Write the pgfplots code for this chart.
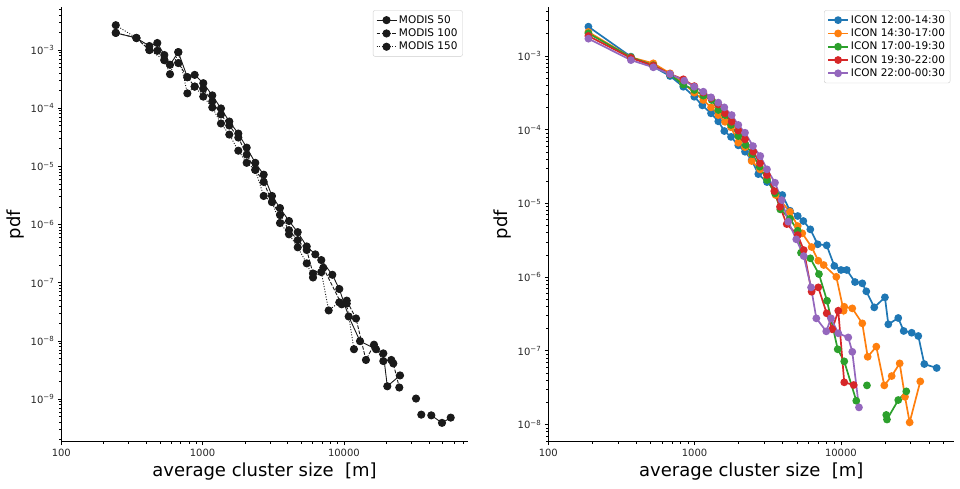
\documentclass[border=0pt]{standalone}
\usepackage{fontspec}
\setmainfont{DejaVu Sans}
\usepackage{pgfplots}
\pgfplotsset{compat=1.18}

\definecolor{mdark}{HTML}{1A1A1A}
\definecolor{tabblue}{HTML}{1F77B4}
\definecolor{taborange}{HTML}{FF7F0E}
\definecolor{tabgreen}{HTML}{2CA02C}
\definecolor{tabred}{HTML}{D62728}
\definecolor{tabpurple}{HTML}{9467BD}

\tikzset{
  modis/.style={mdark, line width=0.9pt, mark=*, mark size=3.6pt,
    mark options={solid, fill=mdark}},
  icon/.style={#1, line width=1.7pt, mark=*, mark size=3pt,
    mark options={solid, fill=#1}},
}

\begin{document}
\begin{tikzpicture}
\useasboundingbox (0,0) rectangle (960pt,488pt);

% MODIS
\begin{axis}[
  scale only axis, at={(61.3pt,46.3pt)}, anchor=south west,
  width=406.4pt, height=434.4pt,
  xmode=log, ymode=log, log basis x=10, log basis y=10,
  xmin=100, xmax=75200, ymin=1.85e-10, ymax=5.42e-3,
  axis lines=left,
  axis line style={-, line width=0.8pt, black},
  tick align=outside,
  major tick length=3.5pt, minor tick length=2pt,
  every tick/.style={black, line width=0.7pt},
  tick label style={font=\fontsize{10}{12}\selectfont, black!85},
  xticklabel={\pgfmathparse{int(round(10^\tick))}\pgfmathresult},
  yticklabel={10\textsuperscript{−\pgfmathparse{int(round(-\tick))}\pgfmathresult}},
  label style={font=\fontsize{18}{21.6}\selectfont},
  xlabel={average cluster size\ \ [m]},
  ylabel={pdf},
  unbounded coords=jump,
  legend cell align=left,
  legend image code/.code={\draw[mark repeat=2, mark phase=2]
    plot coordinates {(0pt,0pt) (10pt,0pt) (20pt,0pt)};},
  legend style={at={(1,1)}, anchor=north east, xshift=-5pt, yshift=-3pt,
    draw=black!20, rounded corners=2pt, inner sep=3pt,
    font=\fontsize{10.5}{15.5}\selectfont},
]
\addplot[modis, solid] coordinates {
  (243,1.97e-3) (340,1.61e-3) (420,1.17e-3) (478,1.32e-3) (536,8.2e-4)
  (588,5.57e-4) (673,9.2e-4) (780,3.41e-4) (879,3.74e-4) (1011,2.69e-4)
  (1171,1.66e-4) (1349,9.9e-5) (1545,5.9e-5) (1790,3.66e-5) (2051,2.10e-5)
  (2360,1.15e-5) (2706,7.2e-6) (3098,3.1e-6) (3529,1.92e-6) (4087,1.15e-6)
  (4710,7.4e-7) (5457,4.2e-7) (6278,3.07e-7) (6918,2.45e-7) (8279,1.37e-7)
  (9275,7.8e-8) (10810,2.63e-8) (13000,9.9e-9) (16870,7.2e-9) (19010,6.1e-9)
  (20280,1.66e-9) (24950,2.55e-9) (28000,nan) (32380,1.02e-9) (33500,nan)
  (35300,5.4e-10) (38000,nan) (41550,5.25e-10) (49450,3.9e-10) (57000,4.8e-10)
};
\addlegendentry{MODIS 50}
\addplot[modis, dash pattern=on 3.7pt off 1.6pt] coordinates {
  (243,1.97e-3) (340,1.61e-3) (420,1.0e-3) (478,9.7e-4) (536,6.7e-4)
  (673,5.96e-4) (780,3.41e-4) (879,2.35e-4) (1011,2.14e-4) (1171,1.31e-4)
  (1349,7.8e-5) (1545,5.04e-5) (1790,3.13e-5) (2051,1.59e-5) (2360,8.7e-6)
  (2706,5.4e-6) (3098,2.44e-6) (3529,1.46e-6) (4087,8.0e-7) (4710,5.4e-7)
  (5457,3.65e-7) (6043,1.44e-7) (7148,1.81e-7) (9643,4.25e-8) (10470,4.92e-8)
  (12180,2.43e-8) (14320,4.7e-9) (16330,8.6e-9) (19010,4.5e-9) (21650,4.7e-9)
  (22370,4.1e-9) (24660,1.58e-9)
};
\addlegendentry{MODIS 100}
\addplot[modis, dash pattern=on 1pt off 1.65pt] coordinates {
  (243,2.67e-3) (340,1.61e-3) (420,1.0e-3) (536,6.7e-4) (588,3.84e-4)
  (673,9.2e-4) (780,1.80e-4) (879,2.35e-4) (1011,1.58e-4) (1171,1.03e-4)
  (1349,5.46e-5) (1545,3.52e-5) (1790,1.86e-5) (2051,1.15e-5) (2360,8.7e-6)
  (2706,3.1e-6) (3098,2.44e-6) (3529,1.06e-6) (4087,6.8e-7) (4710,4.06e-7)
  (5457,2.15e-7) (6043,1.23e-7) (6918,1.52e-7) (7805,3.34e-8) (9275,4.6e-8)
  (10470,4.37e-8) (11780,7.2e-9)
};
\addlegendentry{MODIS 150}
\end{axis}

% ICON
\begin{axis}[
  scale only axis, at={(548.3pt,46.3pt)}, anchor=south west,
  width=406pt, height=434.4pt,
  xmode=log, ymode=log, log basis x=10, log basis y=10,
  xmin=100, xmax=59600, ymin=5.85e-9, ymax=4.58e-3,
  axis lines=left,
  axis line style={-, line width=0.8pt, black},
  tick align=outside,
  major tick length=3.5pt, minor tick length=2pt,
  every tick/.style={black, line width=0.7pt},
  tick label style={font=\fontsize{10}{12}\selectfont, black!85},
  xticklabel={\pgfmathparse{int(round(10^\tick))}\pgfmathresult},
  yticklabel={10\textsuperscript{−\pgfmathparse{int(round(-\tick))}\pgfmathresult}},
  label style={font=\fontsize{18}{21.6}\selectfont},
  xlabel={average cluster size\ \ [m]},
  ylabel={pdf},
  unbounded coords=jump,
  legend cell align=left,
  legend image code/.code={\draw[mark repeat=2, mark phase=2]
    plot coordinates {(0pt,0pt) (10pt,0pt) (20pt,0pt)};},
  legend style={at={(1,1)}, anchor=north east, xshift=-4pt, yshift=-3pt,
    draw=black!20, rounded corners=2pt, inner sep=3pt,
    font=\fontsize{10.5}{15.5}\selectfont},
]
\addplot[icon=tabblue] coordinates {
  (188,2.50e-3) (367,9.8e-4) (522,7.16e-4) (679,5.35e-4) (837,3.83e-4)
  (995,2.80e-4) (1129,2.14e-4) (1295,1.67e-4) (1452,1.30e-4) (1596,9.6e-5)
  (1774,8.0e-5) (1990,6.14e-5) (2211,5.03e-5) (2456,3.88e-5) (2725,2.50e-5)
  (3124,1.95e-5) (3977,1.30e-5) (4487,7.96e-6) (5070,6.75e-6) (5535,5.77e-6)
  (6180,4.45e-6) (6937,2.79e-6) (7995,2.70e-6) (9017,1.42e-6) (10016,1.25e-6)
  (10970,1.25e-6) (12480,8.58e-7) (14000,8.24e-7) (14920,6.42e-7) (16900,3.89e-7)
  (20000,5.32e-7) (21090,2.29e-7) (24660,2.79e-7) (26860,1.86e-7) (30460,1.76e-7)
  (33810,1.59e-7) (37170,6.62e-8) (45160,5.85e-8)
};
\addlegendentry{ICON 12:00-14:30}
\addplot[icon=taborange] coordinates {
  (188,2.12e-3) (367,9.6e-4) (522,7.96e-4) (679,5.82e-4) (837,4.26e-4)
  (995,3.18e-4) (1147,2.53e-4) (1295,2.01e-4) (1452,1.58e-4) (1614,1.28e-4)
  (1774,1.08e-4) (1990,6.67e-5) (2211,5.8e-5) (2456,3.76e-5) (2800,2.9e-5)
  (3124,2.2e-5) (3583,1.30e-5) (4487,7.71e-6) (5070,4.93e-6) (5445,3.93e-6)
  (6310,2.56e-6) (7007,1.67e-6) (7627,1.46e-6) (9304,1.01e-6) (10440,3.5e-7)
  (10540,3.96e-7) (11960,3.77e-7) (14000,2.36e-7) (15240,8.3e-8) (17460,1.14e-7)
  (19800,3.4e-8) (22240,4.55e-8) (25220,6.76e-8) (27420,2.38e-8) (29510,1.07e-8)
  (34890,3.85e-8)
};
\addlegendentry{ICON 14:30-17:00}
\addplot[icon=tabgreen] coordinates {
  (188,2.03e-3) (367,9.6e-4) (522,7.5e-4) (679,5.6e-4) (837,4.1e-4)
  (995,3.46e-4) (1147,2.9e-4) (1309,2.53e-4) (1452,1.85e-4) (1614,1.58e-4)
  (1774,1.16e-4) (1990,8.2e-5) (2234,6.2e-5) (2479,4.68e-5) (2786,3.15e-5)
  (3124,2.08e-5) (3545,1.37e-5) (3853,8.3e-6) (4487,6.2e-6) (5070,4.26e-6)
  (5336,2.14e-6) (6180,1.80e-6) (7080,1.10e-6) (8040,4.78e-7) (9509,1.05e-7)
  (10540,7.2e-8) (12740,2.1e-8) (14000,nan) (15070,3.4e-8) (17000,nan)
  (20420,1.35e-8) (20650,1.17e-8) (24660,2.15e-8) (27990,2.82e-8)
};
\addlegendentry{ICON 17:00-19:30}
\addplot[icon=tabred] coordinates {
  (188,1.87e-3) (367,9.4e-4) (522,7.4e-4) (679,5.7e-4) (837,4.83e-4)
  (995,3.9e-4) (1147,3.2e-4) (1295,2.7e-4) (1452,2.2e-4) (1614,1.67e-4)
  (1793,1.28e-4) (1990,9.7e-5) (2211,7.4e-5) (2519,5.03e-5) (2800,3.5e-5)
  (3124,2.43e-5) (3506,1.47e-5) (3836,9.0e-6) (4262,5.25e-6) (5070,3.72e-6)
  (5570,2.33e-6) (6310,6.34e-7) (7007,7.27e-7) (7995,3.23e-7) (8730,1.96e-7)
  (9594,3.5e-7) (10540,3.74e-8) (12230,3.44e-8)
};
\addlegendentry{ICON 19:30-22:00}
\addplot[icon=tabpurple] coordinates {
  (188,1.72e-3) (367,8.8e-4) (522,7.03e-4) (679,5.7e-4) (850,4.62e-4)
  (995,3.83e-4) (1147,3.28e-4) (1295,2.75e-4) (1452,2.33e-4) (1596,2.01e-4)
  (1793,1.58e-4) (1990,1.16e-4) (2211,9.1e-5) (2507,6.0e-5) (2812,4.4e-5)
  (3124,2.9e-5) (3545,1.91e-5) (3938,1.11e-5) (4370,5.65e-6) (4955,3.26e-6)
  (5570,1.93e-6) (6252,7.27e-7) (6793,2.76e-7) (7943,1.84e-7) (8551,2.76e-7)
  (9594,1.73e-7) (11230,1.52e-7) (11960,9.7e-8) (13290,1.71e-8)
};
\addlegendentry{ICON 22:00-00:30}
\end{axis}
\end{tikzpicture}
\end{document}
